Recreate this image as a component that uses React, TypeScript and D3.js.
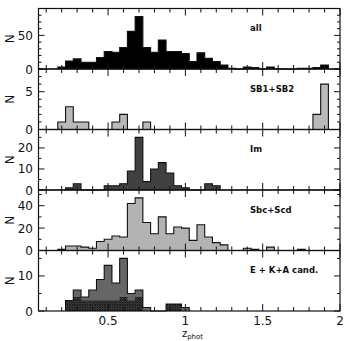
import React from 'react'
import * as d3 from 'd3'

// histogram bins: left edge of first bin and bin width in z_phot
const binStart = 0.175
const binWidth = 0.05

const allCounts = [3, 12, 15, 10, 10, 17, 26, 25, 32, 56, 78, 32, 25, 43, 26, 26, 23, 11, 24, 16, 11, 6, 1, 0, 3, 2, 0, 3, 0, 0, 0, 1, 1, 2, 6]
const sbCounts = [1, 3, 1, 1, 0, 0, 0, 1, 2, 0, 0, 1, 0, 0, 0, 0, 0, 0, 0, 0, 0, 0, 0, 0, 0, 0, 0, 0, 0, 0, 0, 0, 0, 2, 6]
const imCounts = [0, 1, 3, 0, 0, 0, 2, 2, 3, 9, 25, 4, 10, 13, 8, 2, 1, 0, 0, 3, 2, 0, 0, 0, 0, 0, 0, 0, 0, 0, 0, 0, 0, 0, 0]
const sbcCounts = [1, 4, 4, 3, 2, 8, 10, 13, 12, 42, 47, 25, 15, 30, 15, 21, 20, 9, 23, 12, 7, 5, 0, 0, 2, 1, 0, 3, 0, 0, 0, 1, 0, 0, 0]
const eCounts = [0, 3, 6, 4, 6, 9, 13, 8, 15, 5, 6, 1, 0, 0, 2, 2, 1, 0, 0, 0, 0, 0, 0, 0, 0, 0, 0, 0, 0, 0, 0, 0, 0, 0, 0]
const kaCounts = [0, 3, 4, 3, 3, 3, 3, 3, 4, 3, 4, 0, 0, 0, 2, 2, 0, 0, 0, 0, 0, 0, 0, 0, 0, 0, 0, 0, 0, 0, 0, 0, 0, 0, 0]

const panelLabels = ['all', 'SB1+SB2', 'Im', 'Sbc+Scd', 'E + K+A cand.']
const panelYMax = [90, 8, 28.75, 54, 17.25]
const panelYMinor = [10, 1, 5, 10, 5]
const panelYMajor = [50, 5, 10, 20, 10]
const xTickLabels = ['0.5', '1', '1.5', '2']

const W = 346
const H = 341
const left = 38.5
const right = 340
const top = 8.5
const panelH = 60.5
const font = 'DejaVu Sans, sans-serif'

// step outline points for a histogram, from first to last non-empty bin
function stepPoints(counts: number[]): [number, number][] {
  const first = counts.findIndex(c => c > 0)
  let last = counts.length - 1
  while (last > 0 && counts[last] === 0) last--
  const edge = (i: number) => binStart + i * binWidth
  const pts: [number, number][] = [[edge(first), 0]]
  for (let i = first; i <= last; i++) {
    pts.push([edge(i), counts[i]], [edge(i + 1), counts[i]])
  }
  pts.push([edge(last + 1), 0])
  return pts
}

function Panel({ index, counts, fill, hatch }: { index: number, counts: number[], fill: string, hatch?: number[] }) {
  const y0 = top + index * panelH
  const x = d3.scaleLinear().domain([0.05, 2]).range([left, right])
  const y = d3.scaleLinear().domain([0, panelYMax[index]]).range([y0 + panelH, y0])

  const line = d3.line<[number, number]>().x(d => x(d[0])).y(d => y(d[1]))
  const area = d3.area<[number, number]>().x(d => x(d[0])).y0(y(0)).y1(d => y(d[1]))
  const pts = stepPoints(counts)

  const xTicks = d3.range(1, 21).map(k => k / 10)
  const yTicks = d3.range(0, panelYMax[index] + 1e-6, panelYMinor[index])
  const isMajorY = (v: number) => Math.abs(v / panelYMajor[index] - Math.round(v / panelYMajor[index])) < 1e-6
  const yLabels = yTicks.filter(isMajorY)

  return (
    <g>
      <path d={area(pts) ?? ''} fill={fill} />
      {hatch && <path d={area(stepPoints(hatch)) ?? ''} fill="url(#xhatch)" />}
      <path d={line(pts) ?? ''} fill="none" stroke="#111" strokeWidth={1.1} />

      {xTicks.map(t => {
        const major = Math.abs(t * 2 - Math.round(t * 2)) < 1e-6
        const len = major ? 7 : 4
        return (
          <g key={t} stroke="#111" strokeWidth={1}>
            <line x1={x(t)} x2={x(t)} y1={y0 + panelH} y2={y0 + panelH - len} />
            <line x1={x(t)} x2={x(t)} y1={y0} y2={y0 + len} />
          </g>
        )
      })}
      {yTicks.map(v => {
        const len = isMajorY(v) ? 6 : 3
        return (
          <g key={v} stroke="#111" strokeWidth={1}>
            <line x1={left} x2={left + len} y1={y(v)} y2={y(v)} />
            <line x1={right} x2={right - len} y1={y(v)} y2={y(v)} />
          </g>
        )
      })}
      {yLabels.map(v => (
        <text key={v} x={33} y={y(v) + 4.5} textAnchor="end" fontSize={12} fontFamily={font} fill="#111">
          {v}
        </text>
      ))}
      <text transform={`translate(13.5,${y0 + panelH / 2}) rotate(-90)`} textAnchor="middle" fontSize={12}
        fontFamily={font} fill="#111">N</text>
      <text x={250} y={y0 + 22.5} fontSize={8.5} fontWeight="bold" fontFamily={font} fill="#111">
        {panelLabels[index]}
      </text>
      <rect x={left} y={y0} width={right - left} height={panelH} fill="none" stroke="#111" strokeWidth={1.2} />
    </g>
  )
}

export default function App() {
  const x = d3.scaleLinear().domain([0.05, 2]).range([left, right])
  const bottom = top + 5 * panelH
  return (
    <svg width={W} height={H} style={{ position: 'absolute', left: 0, top: 0, background: '#fff' }}>
      <defs>
        <pattern id="xhatch" width={2.5} height={2.5} patternUnits="userSpaceOnUse">
          <rect width={2.5} height={2.5} fill="#4a4a4a" />
          <path d="M0,0 L2.5,2.5 M2.5,0 L0,2.5" stroke="#141414" strokeWidth={0.8} />
        </pattern>
      </defs>
      <Panel index={0} counts={allCounts} fill="#000" />
      <Panel index={1} counts={sbCounts} fill="#b9b9b9" />
      <Panel index={2} counts={imCounts} fill="#404040" />
      <Panel index={3} counts={sbcCounts} fill="#b3b3b3" />
      <Panel index={4} counts={eCounts} fill="#666" hatch={kaCounts} />
      {xTickLabels.map(t => (
        <text key={t} x={x(+t)} y={bottom + 13.5} textAnchor="middle" fontSize={12} fontFamily={font} fill="#111">
          {t}
        </text>
      ))}
      <text x={x(1) - 3.5} y={bottom + 26} textAnchor="start" fontFamily={font} fill="#111">
        <tspan fontSize={10}>z</tspan>
        <tspan fontSize={7} dy={1.5}>phot</tspan>
      </text>
    </svg>
  )
}
